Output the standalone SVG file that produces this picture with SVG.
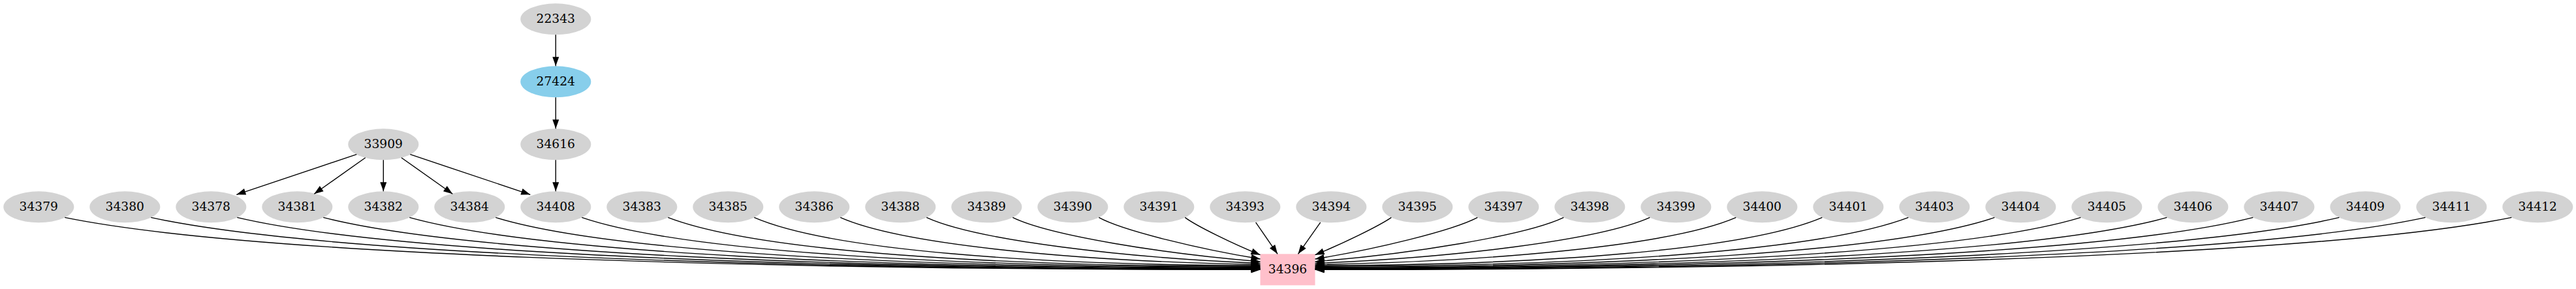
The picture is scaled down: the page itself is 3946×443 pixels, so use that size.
<svg xmlns="http://www.w3.org/2000/svg" width="3946" height="443" viewBox="0 0 3946 443">
<style>
.n ellipse{fill:#d3d3d3;stroke:none}
.n text{font-family:"DejaVu Serif","Liberation Serif",serif;font-size:18.67px;text-anchor:middle;fill:#000}
.e path{fill:none;stroke:#000;stroke-width:1.4;marker-end:url(#ah)}
</style>
<defs>
<marker id="ah" markerUnits="userSpaceOnUse" markerWidth="15" markerHeight="11" refX="14" refY="5" orient="auto" overflow="visible">
<path d="M0,0 L14,5 L0,10 z" fill="#000"/>
</marker>
</defs>
<rect width="3946" height="443" fill="#fff"/>
<g id="n22343" class="n"><ellipse cx="851.3" cy="29.3" rx="54" ry="24"/><text x="851.3" y="34.9">22343</text></g>
<g id="n27424" class="n"><ellipse cx="851.3" cy="125.3" rx="54" ry="24" style="fill:#87ceeb"/><text x="851.3" y="130.9">27424</text></g>
<g id="n33909" class="n"><ellipse cx="587.3" cy="221.3" rx="54" ry="24"/><text x="587.3" y="226.9">33909</text></g>
<g id="n34616" class="n"><ellipse cx="851.3" cy="221.3" rx="54" ry="24"/><text x="851.3" y="226.9">34616</text></g>
<g id="n34379" class="n"><ellipse cx="59.3" cy="317.3" rx="54" ry="24"/><text x="59.3" y="322.9">34379</text></g>
<g id="n34380" class="n"><ellipse cx="191.3" cy="317.3" rx="54" ry="24"/><text x="191.3" y="322.9">34380</text></g>
<g id="n34378" class="n"><ellipse cx="323.3" cy="317.3" rx="54" ry="24"/><text x="323.3" y="322.9">34378</text></g>
<g id="n34381" class="n"><ellipse cx="455.3" cy="317.3" rx="54" ry="24"/><text x="455.3" y="322.9">34381</text></g>
<g id="n34382" class="n"><ellipse cx="587.3" cy="317.3" rx="54" ry="24"/><text x="587.3" y="322.9">34382</text></g>
<g id="n34384" class="n"><ellipse cx="719.3" cy="317.3" rx="54" ry="24"/><text x="719.3" y="322.9">34384</text></g>
<g id="n34408" class="n"><ellipse cx="851.3" cy="317.3" rx="54" ry="24"/><text x="851.3" y="322.9">34408</text></g>
<g id="n34383" class="n"><ellipse cx="983.3" cy="317.3" rx="54" ry="24"/><text x="983.3" y="322.9">34383</text></g>
<g id="n34385" class="n"><ellipse cx="1115.3" cy="317.3" rx="54" ry="24"/><text x="1115.3" y="322.9">34385</text></g>
<g id="n34386" class="n"><ellipse cx="1247.3" cy="317.3" rx="54" ry="24"/><text x="1247.3" y="322.9">34386</text></g>
<g id="n34388" class="n"><ellipse cx="1379.3" cy="317.3" rx="54" ry="24"/><text x="1379.3" y="322.9">34388</text></g>
<g id="n34389" class="n"><ellipse cx="1511.3" cy="317.3" rx="54" ry="24"/><text x="1511.3" y="322.9">34389</text></g>
<g id="n34390" class="n"><ellipse cx="1643.3" cy="317.3" rx="54" ry="24"/><text x="1643.3" y="322.9">34390</text></g>
<g id="n34391" class="n"><ellipse cx="1775.3" cy="317.3" rx="54" ry="24"/><text x="1775.3" y="322.9">34391</text></g>
<g id="n34393" class="n"><ellipse cx="1907.3" cy="317.3" rx="54" ry="24"/><text x="1907.3" y="322.9">34393</text></g>
<g id="n34394" class="n"><ellipse cx="2039.3" cy="317.3" rx="54" ry="24"/><text x="2039.3" y="322.9">34394</text></g>
<g id="n34395" class="n"><ellipse cx="2171.3" cy="317.3" rx="54" ry="24"/><text x="2171.3" y="322.9">34395</text></g>
<g id="n34397" class="n"><ellipse cx="2303.3" cy="317.3" rx="54" ry="24"/><text x="2303.3" y="322.9">34397</text></g>
<g id="n34398" class="n"><ellipse cx="2435.3" cy="317.3" rx="54" ry="24"/><text x="2435.3" y="322.9">34398</text></g>
<g id="n34399" class="n"><ellipse cx="2567.3" cy="317.3" rx="54" ry="24"/><text x="2567.3" y="322.9">34399</text></g>
<g id="n34400" class="n"><ellipse cx="2699.3" cy="317.3" rx="54" ry="24"/><text x="2699.3" y="322.9">34400</text></g>
<g id="n34401" class="n"><ellipse cx="2831.3" cy="317.3" rx="54" ry="24"/><text x="2831.3" y="322.9">34401</text></g>
<g id="n34403" class="n"><ellipse cx="2963.3" cy="317.3" rx="54" ry="24"/><text x="2963.3" y="322.9">34403</text></g>
<g id="n34404" class="n"><ellipse cx="3095.3" cy="317.3" rx="54" ry="24"/><text x="3095.3" y="322.9">34404</text></g>
<g id="n34405" class="n"><ellipse cx="3227.3" cy="317.3" rx="54" ry="24"/><text x="3227.3" y="322.9">34405</text></g>
<g id="n34406" class="n"><ellipse cx="3359.3" cy="317.3" rx="54" ry="24"/><text x="3359.3" y="322.9">34406</text></g>
<g id="n34407" class="n"><ellipse cx="3491.3" cy="317.3" rx="54" ry="24"/><text x="3491.3" y="322.9">34407</text></g>
<g id="n34409" class="n"><ellipse cx="3623.3" cy="317.3" rx="54" ry="24"/><text x="3623.3" y="322.9">34409</text></g>
<g id="n34411" class="n"><ellipse cx="3755.3" cy="317.3" rx="54" ry="24"/><text x="3755.3" y="322.9">34411</text></g>
<g id="n34412" class="n"><ellipse cx="3887.3" cy="317.3" rx="54" ry="24"/><text x="3887.3" y="322.9">34412</text></g>
<g id="n34396" class="n"><rect x="1930.5" y="389.3" width="84" height="48" fill="#ffc0cb"/><text x="1972.5" y="418.9">34396</text></g>
<g id="connectors" class="e">
<path d="M851.3,53.3 L851.3,101.3"/>
<path d="M851.3,149.3 L851.3,197.3"/>
<path d="M851.3,245.3 L851.3,293.3"/>
<path d="M587.3,245.3 L587.3,293.3"/>
<path d="M614.9,241.7 L693.3,297.3"/>
<path d="M559.7,241.7 L481.3,297.3"/>
<path d="M628.3,236.7 L812.3,298.3"/>
<path d="M546.3,236.7 L362.3,298.3"/>
<path d="M99.3,333.4 C374,389.4 1106.5,413.4 1930.5,413.4"/>
<path d="M231.3,333.4 C486.2,389.1 1165.9,413 1930.5,413"/>
<path d="M363.3,333.4 C598.4,388.8 1225.3,412.5 1930.5,412.5"/>
<path d="M495.3,333.4 C710.6,388.4 1284.7,411.9 1930.5,411.9"/>
<path d="M627.3,333.4 C822.8,387.9 1344.1,411.2 1930.5,411.2"/>
<path d="M759.3,333.4 C935,387.3 1403.5,410.4 1930.5,410.4"/>
<path d="M891.3,333.4 C1047.2,386.6 1462.9,409.4 1930.5,409.4"/>
<path d="M1023.3,333.4 C1159.4,385.8 1522.3,408.3 1930.5,408.3"/>
<path d="M1155.3,333.4 C1271.6,383.7 1584.5,406.3 1930.5,407"/>
<path d="M1287.3,333.4 C1383.8,376.1 1656.2,400.8 1930.5,405.5"/>
<path d="M1419.3,333.4 C1496,368.5 1722.4,395.2 1930.5,403.5"/>
<path d="M1551.3,333.4 C1608.2,361.2 1783.8,389.2 1930.5,401"/>
<path d="M1683.3,333.4 C1720.4,353.8 1839.8,382.5 1930.5,397"/>
<path d="M1815.3,333.4 C1832.6,346.5 1890.5,374.5 1930.5,390.7"/>
<path d="M1923.6,340.8 L1957,389.3"/>
<path d="M2022.7,340.8 L1988.5,389.3"/>
<path d="M2131.3,333.4 C2112.4,346.5 2054.5,374.5 2014.5,390.7"/>
<path d="M2263.3,333.4 C2224.6,353.8 2105.2,382.5 2014.5,397"/>
<path d="M2395.3,333.4 C2336.8,361.2 2161.2,389.2 2014.5,401"/>
<path d="M2527.3,333.4 C2449,368.5 2222.6,395.2 2014.5,403.5"/>
<path d="M2659.3,333.4 C2561.2,376.1 2288.8,400.8 2014.5,405.5"/>
<path d="M2791.3,333.4 C2673.4,383.7 2360.5,406.3 2014.5,407"/>
<path d="M2923.3,333.4 C2785.6,385.8 2422.7,408.3 2014.5,408.3"/>
<path d="M3055.3,333.4 C2897.8,386.6 2482.1,409.4 2014.5,409.4"/>
<path d="M3187.3,333.4 C3010,387.3 2541.5,410.4 2014.5,410.4"/>
<path d="M3319.3,333.4 C3122.2,387.9 2600.9,411.2 2014.5,411.2"/>
<path d="M3451.3,333.4 C3234.4,388.4 2660.3,411.9 2014.5,411.9"/>
<path d="M3583.3,333.4 C3346.6,388.8 2719.7,412.5 2014.5,412.5"/>
<path d="M3715.3,333.4 C3458.8,389.1 2779.1,413 2014.5,413"/>
<path d="M3847.3,333.4 C3571,389.4 2838.5,413.4 2014.5,413.4"/>
</g>
</svg>
